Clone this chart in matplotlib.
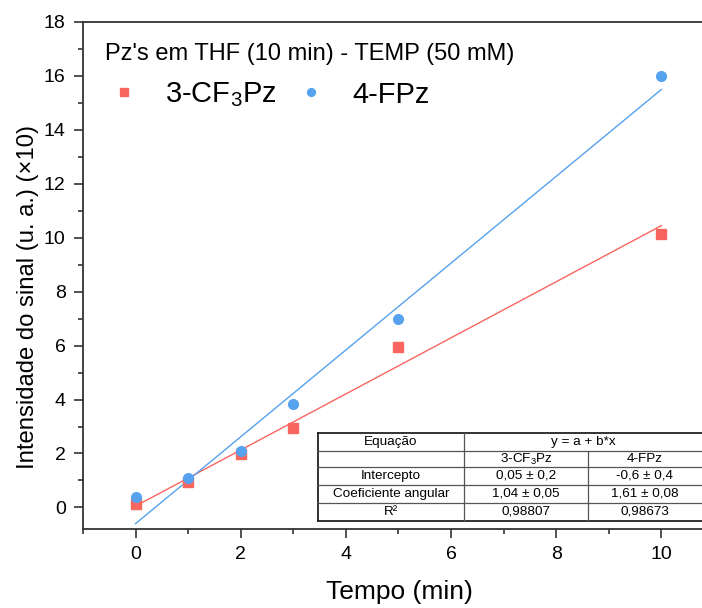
import numpy as np
import matplotlib
matplotlib.use('Agg')
import matplotlib.pyplot as plt
from matplotlib.ticker import MultipleLocator

plt.rcParams['font.family'] = ['Liberation Sans', 'DejaVu Sans']
plt.rcParams['mathtext.fontset'] = 'custom'
plt.rcParams['mathtext.rm'] = 'Liberation Sans'
plt.rcParams['mathtext.it'] = 'Liberation Sans:italic'

# dados
tempo = [0, 1, 2, 3, 5, 10]
cf3pz = [0.14, 0.95, 1.97, 2.95, 5.95, 10.15]
fpz = [0.38, 1.08, 2.10, 3.85, 7.00, 16.00]
# ajustes lineares (y = a + b*x)
fit_a = [0.05, -0.6]
fit_b = [1.04, 1.61]
labels = ['3-CF$_\\mathrm{3}$Pz', '4-FPz']
cores = ['#F8665F', '#56A2EE']
titulo_leg = "Pz's em THF (10 min) - TEMP (50 mM)"

# tabela
tab_header = ['Equação', 'y = a + b*x']
tab_rows = [['', '3-CF$_\\mathrm{3}$Pz', '4-FPz'],
            ['Intercepto', '0,05 ± 0,2', '-0,6 ± 0,4'],
            ['Coeficiente angular', '1,04 ± 0,05', '1,61 ± 0,08'],
            ['R²', '0,98807', '0,98673']]

W, H = 702, 608
fig = plt.figure(figsize=(W / 100, H / 100), dpi=100)
# eixo vai além da borda direita (figura recortada)
x0, x1, y0, y1 = 83, 714, 529, 22
ax = fig.add_axes([x0 / W, 1 - y0 / H, (x1 - x0) / W, (y0 - y1) / H])

ax.plot(tempo, cf3pz, 's', color=cores[0], ms=6.5, label=labels[0], zorder=3)
ax.plot(tempo, fpz, 'o', color=cores[1], ms=7, label=labels[1], zorder=3)
xf = np.array([0, 10])
ax.plot(xf, fit_a[0] + fit_b[0] * xf, '-', color=cores[0], lw=1)
ax.plot(xf, fit_a[1] + fit_b[1] * xf, '-', color=cores[1], lw=1)

ax.set_xlim(-1, 11)
ax.set_ylim(-0.8, 18)
ax.xaxis.set_major_locator(MultipleLocator(2))
ax.xaxis.set_minor_locator(MultipleLocator(1))
ax.yaxis.set_major_locator(MultipleLocator(2))
ax.yaxis.set_minor_locator(MultipleLocator(1))
ax.tick_params(which='major', direction='out', length=6.5, width=1.2, labelsize=14,
               color='#333333', pad=6)
ax.tick_params(which='minor', direction='out', length=3.5, width=1.2, color='#333333')
for s in ax.spines.values():
    s.set_linewidth(1.3)
    s.set_color('#333333')

ax.set_xlabel('Tempo (min)', fontsize=19)
ax.xaxis.set_label_coords(399 / W, 1 - 580 / H, transform=fig.transFigure)
ax.set_ylabel('Intensidade do sinal (u. a.) (×10)', fontsize=17.2)
ax.yaxis.set_label_coords(39 / W, 1 - 297 / H, transform=fig.transFigure)

# legenda
fig.text(105 / W, 1 - 54 / H, titulo_leg, fontsize=17, ha='left', va='center')
ax.legend(loc='center left', bbox_to_anchor=(83 / W, 1 - 95 / H), bbox_transform=fig.transFigure,
          ncol=2, frameon=False, fontsize=21, handlelength=1.0, handletextpad=0.9,
          columnspacing=0.7, markerscale=0.8, borderpad=0.4)

# tabela desenhada em coordenadas de pixel
tx = fig.add_axes([0, 0, 1, 1])
tx.set_xlim(0, W)
tx.set_ylim(H, 0)
tx.axis('off')
cols = [318, 464, 588, 720]
rows = [433, 451, 467, 485, 503, 521]
fs = 9.7
# linhas
tx.plot([cols[0], cols[-1]], [rows[0], rows[0]], color='#222222', lw=1.3)
tx.plot([cols[0], cols[-1]], [rows[-1], rows[-1]], color='#222222', lw=1.3)
tx.plot([cols[0], cols[0]], [rows[0], rows[-1]], color='#222222', lw=1.3)
for r in rows[1:-1]:
    tx.plot([cols[0], cols[-1]], [r, r], color='#555555', lw=0.9)
tx.plot([cols[1], cols[1]], [rows[0], rows[-1]], color='#555555', lw=0.9)
tx.plot([cols[2], cols[2]], [rows[1], rows[-1]], color='#555555', lw=0.9)
# textos
tx.text((cols[0] + cols[1]) / 2, (rows[0] + rows[1]) / 2, tab_header[0],
        ha='center', va='center', fontsize=fs)
tx.text((cols[1] + 702) / 2, (rows[0] + rows[1]) / 2, tab_header[1],
        ha='center', va='center', fontsize=fs)
cx = [(cols[0] + cols[1]) / 2, (cols[1] + cols[2]) / 2, (cols[2] + 702) / 2]
for i, linha in enumerate(tab_rows):
    cy = (rows[i + 1] + rows[i + 2]) / 2
    for j, t in enumerate(linha):
        tx.text(cx[j], cy, t, ha='center', va='center', fontsize=fs)

fig.savefig('out.png', dpi=100)
